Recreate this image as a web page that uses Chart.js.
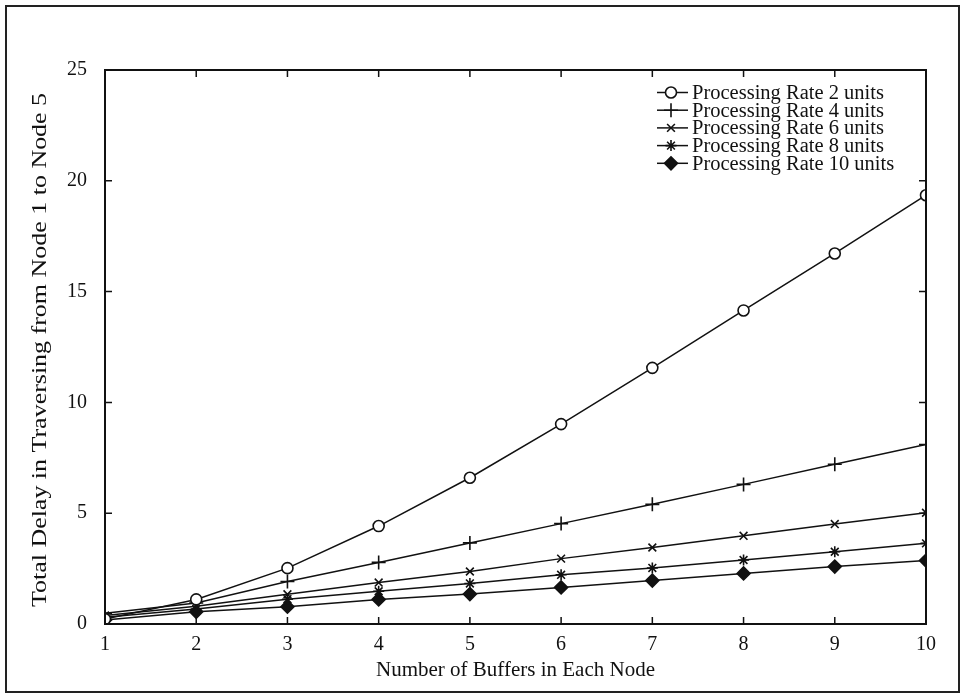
<!DOCTYPE html>
<html lang="en">
<head>
  <meta charset="UTF-8">
  <title>Total Delay vs Number of Buffers</title>
  <script src="https://cdn.jsdelivr.net/npm/chart.js"></script>
  <style>
    html, body { margin: 0; padding: 0; background: #fff; }
    #wrap { position: relative; width: 964px; height: 698px; }
  </style>
</head>
<body>
  <div id="wrap">
    <canvas id="delayChart" width="964" height="698"></canvas>
  </div>
<script>
  const buffers = [1, 2, 3, 4, 5, 6, 7, 8, 9, 10];
  const rate2 = [0.22, 1.11, 2.52, 4.42, 6.6, 9.02, 11.56, 14.15, 16.72, 19.35];
  const rate4 = [0.48, 0.95, 1.92, 2.78, 3.66, 4.53, 5.4, 6.3, 7.21, 8.1];
  const rate6 = [0.38, 0.8, 1.34, 1.87, 2.37, 2.95, 3.45, 3.98, 4.51, 5.02];
  const rate8 = [0.3, 0.68, 1.12, 1.48, 1.83, 2.22, 2.53, 2.89, 3.26, 3.64];
  const rate10 = [0.18, 0.55, 0.78, 1.11, 1.35, 1.65, 1.96, 2.28, 2.59, 2.86];
  const seriesNames = ['Processing Rate 2 units', 'Processing Rate 4 units', 'Processing Rate 6 units',
    'Processing Rate 8 units', 'Processing Rate 10 units'];
  const yTitle = 'Total Delay in Traversing from Node 1 to Node 5';

  const serif = "'Liberation Serif', 'Times New Roman', serif";

  function makeSet(i, values, style, radius, fill) {
    return {
      label: seriesNames[i],
      data: buffers.map((b, k) => ({ x: b, y: values[k] })),
      borderColor: '#111',
      borderWidth: 1.5,
      pointStyle: style,
      pointRadius: radius,
      pointBorderWidth: 1.6,
      pointBorderColor: '#111',
      pointBackgroundColor: fill,
      tension: 0
    };
  }

  const datasets = [
    makeSet(0, rate2, 'circle', 5.5, '#fff'),
    makeSet(1, rate4, 'cross', 7, '#111'),
    makeSet(2, rate6, 'crossRot', 5.5, '#111'),
    makeSet(3, rate8, 'star', 5.5, '#111'),
    makeSet(4, rate10, 'rectRot', 6.5, '#111')
  ];

  // page frame, box around the plot, inward tick marks, y title and the legend
  const decor = {
    id: 'decor',
    beforeDraw(chart) {
      const c = chart.ctx;
      c.save();
      c.fillStyle = '#fff';
      c.fillRect(0, 0, chart.width, chart.height);
      c.strokeStyle = '#222';
      c.lineWidth = 2;
      c.strokeRect(6, 6, 953, 686);
      c.restore();
    },
    afterDraw(chart) {
      const c = chart.ctx;
      const a = chart.chartArea;
      const xs = chart.scales.x, ys = chart.scales.y;
      c.save();
      c.strokeStyle = '#111';
      c.lineWidth = 2;
      c.strokeRect(a.left, a.top, a.right - a.left, a.bottom - a.top);
      c.lineWidth = 1.5;
      c.beginPath();
      xs.ticks.forEach(t => {
        const px = xs.getPixelForValue(t.value);
        c.moveTo(px, a.bottom); c.lineTo(px, a.bottom - 7);
        c.moveTo(px, a.top); c.lineTo(px, a.top + 7);
      });
      ys.ticks.forEach(t => {
        const py = ys.getPixelForValue(t.value);
        c.moveTo(a.left, py); c.lineTo(a.left + 7, py);
        c.moveTo(a.right, py); c.lineTo(a.right - 7, py);
      });
      c.stroke();

      // y axis title, stretched along its length like the print
      c.save();
      c.translate(40, (a.top + a.bottom) / 2 + 3);
      c.rotate(-Math.PI / 2);
      c.scale(1.18, 1);
      c.font = '22px ' + serif;
      c.fillStyle = '#111';
      c.textAlign = 'center';
      c.textBaseline = 'middle';
      c.fillText(yTitle, 0, 0);
      c.restore();

      // legend
      const x0 = 657, x1 = 688, xm = 671, tx = 692;
      let y = 92.5;
      c.font = '20.5px ' + serif;
      c.textBaseline = 'middle';
      c.textAlign = 'left';
      chart.data.datasets.forEach(ds => {
        c.strokeStyle = ds.borderColor;
        c.lineWidth = ds.borderWidth;
        c.beginPath(); c.moveTo(x0, y); c.lineTo(x1, y); c.stroke();
        c.lineWidth = ds.pointBorderWidth;
        c.fillStyle = ds.pointBackgroundColor;
        Chart.helpers.drawPoint(c, { pointStyle: ds.pointStyle, radius: ds.pointRadius, borderWidth: ds.pointBorderWidth }, xm, y);
        c.fillStyle = '#111';
        c.fillText(ds.label, tx, y + 1);
        y += 17.7;
      });
      c.restore();
    }
  };

  const ctx = document.getElementById('delayChart').getContext('2d');
  const delayChart = new Chart(ctx, {
    type: 'line',
    data: { datasets: datasets },
    plugins: [decor],
    options: {
      responsive: false,
      animation: false,
      layout: { padding: { left: 0, top: 70, right: 38, bottom: 0 } },
      plugins: {
        legend: { display: false },
        tooltip: { enabled: false }
      },
      scales: {
        x: {
          type: 'linear',
          min: 1,
          max: 10,
          afterFit(scale) { scale.height = 74; },
          grid: { display: false, drawTicks: false },
          border: { display: false },
          ticks: { stepSize: 1, padding: 9, color: '#111', font: { family: serif, size: 20 } },
          title: {
            display: true,
            text: 'Number of Buffers in Each Node',
            color: '#111',
            font: { family: serif, size: 21 },
            padding: { top: 4, bottom: 15 }
          }
        },
        y: {
          min: 0,
          max: 25,
          afterFit(scale) { scale.width = 105; },
          grid: { display: false, drawTicks: false },
          border: { display: false },
          ticks: { stepSize: 5, padding: 18, color: '#111', font: { family: serif, size: 20 } }
        }
      }
    }
  });
</script>
</body>
</html>
